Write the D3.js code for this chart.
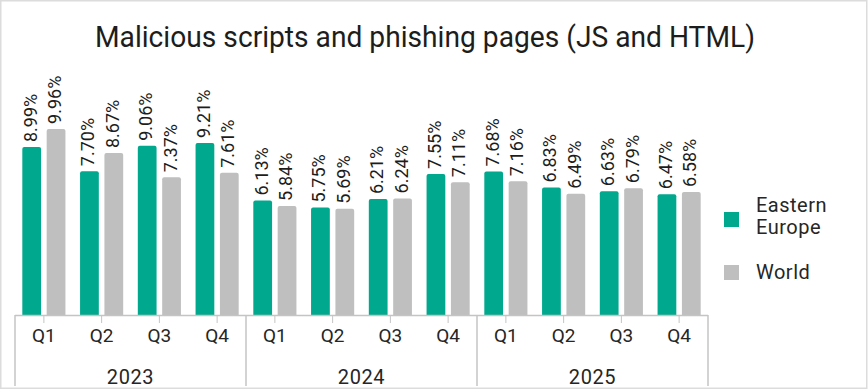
<!DOCTYPE html>
<html><head><meta charset="utf-8">
<script src="https://cdn.jsdelivr.net/npm/d3@7"></script>
<style>
html,body{margin:0;padding:0;background:#fff;}
svg{display:block;}
text{font-family:Roboto, "Open Sans", sans-serif;}
</style></head>
<body>
<svg id="chart" width="868" height="390"></svg>
<script>
const title = "Malicious scripts and phishing pages (JS and HTML)";
const years = ["2023", "2024", "2025"];
const quarters = ["Q1", "Q2", "Q3", "Q4"];
const seriesNames = ["Eastern Europe", "World"];
const easternEurope = [8.99, 7.70, 9.06, 9.21, 6.13, 5.75, 6.21, 7.55, 7.68, 6.83, 6.63, 6.47];
const world = [9.96, 8.67, 7.37, 7.61, 5.84, 5.69, 6.24, 7.11, 7.16, 6.49, 6.79, 6.58];
const colors = ["#00a88e", "#bfbfbf"];

const categories = [];
years.forEach(y => quarters.forEach(q => categories.push(y + " " + q)));
const rows = categories.map((c, i) => ({cat: c, year: c.split(" ")[0], q: c.split(" ")[1], vals: [easternEurope[i], world[i]]}));

const svg = d3.select("#chart");
svg.append("rect").attr("x", 0.75).attr("y", 0.75).attr("width", 866).attr("height", 387.5)
  .attr("fill", "#fff").attr("stroke", "#dcdcdc").attr("stroke-width", 1.5);

const left = 15, right = 708, baseY = 315;
const x0 = d3.scaleBand().domain(categories).range([left, right]).paddingInner(0).paddingOuter(0);
const x1 = d3.scaleBand().domain(seriesNames).range([0, x0.bandwidth()]).paddingInner(0.23).paddingOuter(0.3);
const y = d3.scaleLinear().domain([0, 12]).range([baseY, baseY - 12 * 18.68]);

svg.append("text").attr("x", 425).attr("y", 47).attr("text-anchor", "middle")
  .attr("font-size", 29).attr("fill", "#1d1d1b").attr("font-weight", 400)
  .attr("textLength", 660).attr("lengthAdjust", "spacingAndGlyphs").text(title);

function topRounded(x, yTop, w, h, r) {
  r = Math.min(r, h, w / 2);
  return `M${x},${yTop + h}V${yTop + r}Q${x},${yTop} ${x + r},${yTop}H${x + w - r}Q${x + w},${yTop} ${x + w},${yTop + r}V${yTop + h}Z`;
}

const g = svg.append("g");
rows.forEach(r => {
  r.vals.forEach((v, si) => {
    const bx = x0(r.cat) + x1(seriesNames[si]);
    const bw = x1.bandwidth();
    const yt = y(v);
    g.append("path").attr("d", topRounded(bx, yt, bw, baseY - yt, 2)).attr("fill", colors[si]);
    g.append("text")
      .attr("transform", `translate(${bx + bw / 2 + 5},${yt - 5}) rotate(-90)`)
      .attr("font-size", 18).attr("font-weight", 400).attr("fill", "#1d1d1b")
      .text(v.toFixed(2) + "%");
  });
});

// axis
const axisColor = "#c4c4c4";
svg.append("line").attr("x1", left).attr("x2", right).attr("y1", baseY + 0.5).attr("y2", baseY + 0.5)
  .attr("stroke", axisColor).attr("stroke-width", 1.5);
categories.forEach(c => {
  const cx = x0(c) + x0.bandwidth() / 2;
  svg.append("line").attr("x1", cx).attr("x2", cx).attr("y1", baseY).attr("y2", baseY + 8)
    .attr("stroke", axisColor).attr("stroke-width", 1);
});
rows.forEach(r => {
  svg.append("text").attr("x", x0(r.cat) + x0.bandwidth() / 2).attr("y", 342)
    .attr("text-anchor", "middle").attr("font-size", 19).attr("fill", "#262626").text(r.q);
});
const boundaries = [0, 4, 8].map(i => x0(categories[i])).concat([right]);
boundaries.forEach(bx => {
  svg.append("line").attr("x1", bx).attr("x2", bx).attr("y1", baseY).attr("y2", 386)
    .attr("stroke", axisColor).attr("stroke-width", 1.5);
});
years.forEach((yr, i) => {
  const a = x0(categories[i * 4]), b = x0(categories[i * 4 + 3]) + x0.bandwidth();
  svg.append("text").attr("x", (a + b) / 2).attr("y", 384).attr("text-anchor", "middle")
    .attr("font-size", 20).attr("letter-spacing", 0.6).attr("fill", "#262626").text(yr);
});

// legend
const lg = svg.append("g");
const legendFont = 20;
lg.append("rect").attr("x", 724).attr("y", 212).attr("width", 15).attr("height", 15).attr("fill", colors[0]);
lg.append("text").attr("x", 756).attr("y", 212).attr("font-size", legendFont).attr("letter-spacing", 0.5).attr("fill", "#262626").text("Eastern");
lg.append("text").attr("x", 756).attr("y", 234).attr("font-size", legendFont).attr("letter-spacing", 0.5).attr("fill", "#262626").text("Europe");
lg.append("rect").attr("x", 724).attr("y", 265).attr("width", 15).attr("height", 15).attr("fill", colors[1]);
lg.append("text").attr("x", 756).attr("y", 279).attr("font-size", legendFont).attr("letter-spacing", 0.5).attr("fill", "#262626").text("World");
</script>
</body></html>
